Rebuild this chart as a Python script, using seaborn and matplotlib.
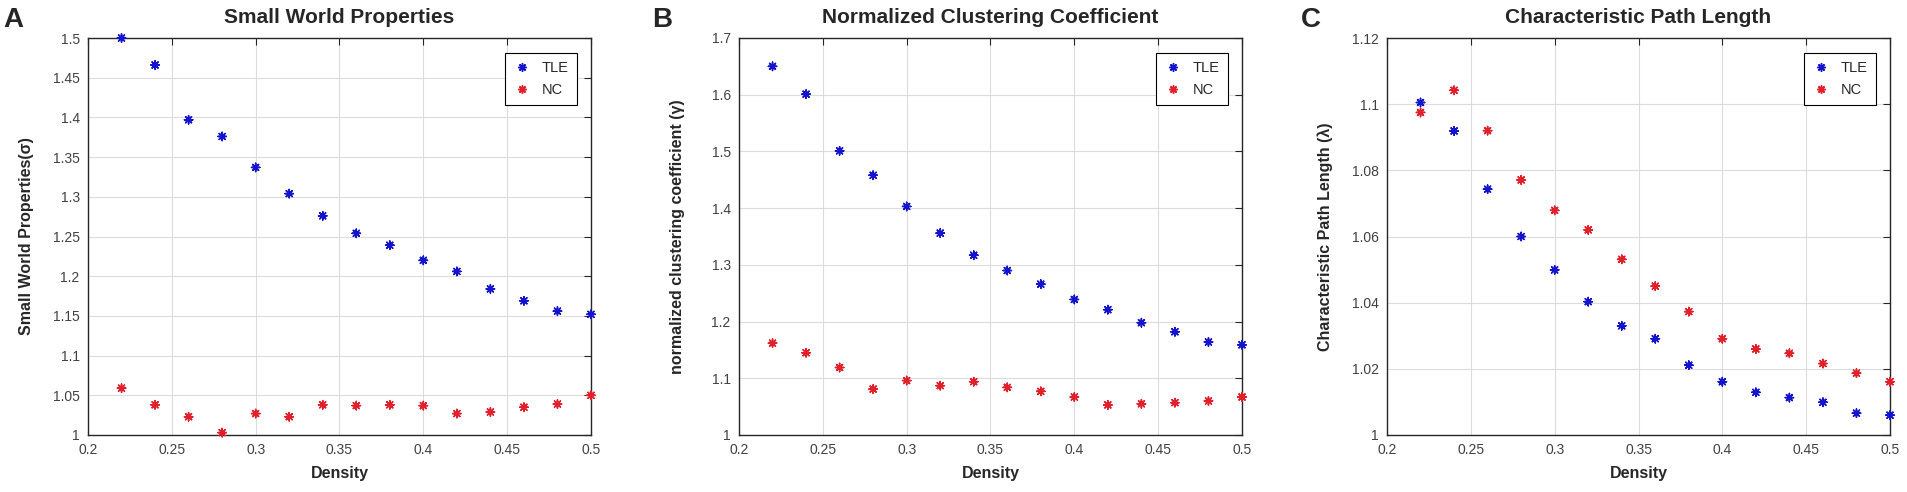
import numpy as np
import pandas as pd
import matplotlib
matplotlib.use("Agg")
import matplotlib.pyplot as plt
import seaborn as sns
from matplotlib.ticker import FuncFormatter, MultipleLocator

density = [0.22, 0.24, 0.26, 0.28, 0.30, 0.32, 0.34, 0.36, 0.38, 0.40, 0.42, 0.44, 0.46, 0.48, 0.50]

sigma_tle = [1.500, 1.466, 1.397, 1.376, 1.337, 1.304, 1.276, 1.254, 1.239, 1.220, 1.206, 1.184, 1.169, 1.156, 1.152]
sigma_nc = [1.059, 1.038, 1.023, 1.003, 1.027, 1.023, 1.038, 1.037, 1.038, 1.037, 1.027, 1.029, 1.035, 1.039, 1.050]

gamma_tle = [1.650, 1.601, 1.501, 1.458, 1.403, 1.356, 1.317, 1.290, 1.266, 1.239, 1.221, 1.198, 1.182, 1.164, 1.159]
gamma_nc = [1.162, 1.145, 1.119, 1.081, 1.096, 1.087, 1.094, 1.084, 1.077, 1.067, 1.053, 1.055, 1.057, 1.060, 1.067]

lambda_tle = [1.1005, 1.0919, 1.0743, 1.0600, 1.0499, 1.0403, 1.0330, 1.0291, 1.0211, 1.0161, 1.0129, 1.0113, 1.0099, 1.0066, 1.0060]
lambda_nc = [1.0975, 1.1042, 1.0920, 1.0771, 1.0679, 1.0620, 1.0531, 1.0450, 1.0373, 1.0291, 1.0260, 1.0247, 1.0216, 1.0187, 1.0161]

groups = ["TLE", "NC"]
titles = ["Small World Properties", "Normalized Clustering Coefficient", "Characteristic Path Length"]
ylabels = ["Small World Properties(σ)", "normalized clustering coefficient (γ)", "Characteristic Path Length (λ)"]
letters = ["A", "B", "C"]
ylims = [(1, 1.5), (1, 1.7), (1, 1.12)]
ysteps = [0.05, 0.1, 0.02]

sns.set_style("white")
plt.rcParams["font.family"] = ["Liberation Sans", "DejaVu Sans"]

colors = {"TLE": "#1414cc", "NC": "#e0202a"}
fmt = FuncFormatter(lambda v, p: f"{round(v, 4):g}")

fig = plt.figure(figsize=(19.08, 4.92), dpi=100)
lefts = [88, 739, 1387]
series = [(sigma_tle, sigma_nc), (gamma_tle, gamma_nc), (lambda_tle, lambda_nc)]

for i in range(3):
    ax = fig.add_axes([lefts[i] / 1908, 57 / 492, 503 / 1908, 397 / 492])
    tle, nc = series[i]
    df = pd.DataFrame({
        "Density": density * 2,
        "value": tle + nc,
        "group": ["TLE"] * len(tle) + ["NC"] * len(nc),
    })
    sns.scatterplot(data=df, x="Density", y="value", hue="group", hue_order=groups,
                    palette=colors, marker=(8, 2, 0), s=36, linewidth=1.1,
                    ax=ax, clip_on=False, zorder=3)
    ax.set_xlim(0.2, 0.5)
    ax.set_ylim(*ylims[i])
    ax.xaxis.set_major_locator(MultipleLocator(0.05))
    ax.yaxis.set_major_locator(MultipleLocator(ysteps[i]))
    ax.xaxis.set_major_formatter(fmt)
    ax.yaxis.set_major_formatter(fmt)
    ax.grid(True, color="#dcdcdc", linewidth=0.8)
    ax.set_axisbelow(True)
    for s in ax.spines.values():
        s.set_visible(True)
        s.set_color("#262626")
        s.set_linewidth(1.0)
    ax.tick_params(direction="in", length=5, width=0.8, top=True, right=True,
                   labelsize=10, colors="#262626", labelcolor="#404040", pad=6)
    ax.set_title(titles[i], fontsize=15, fontweight="bold", pad=11)
    ax.set_xlabel("Density", fontsize=11.5, fontweight="bold", labelpad=6)
    ax.set_ylabel(ylabels[i], fontsize=11.5, fontweight="bold")
    ax.yaxis.set_label_coords(-54 / 503, 0.5)
    ax.legend(loc="upper right", bbox_to_anchor=(1 - 14 / 503, 1 - 15 / 397),
              fontsize=10.5, frameon=True, fancybox=False, edgecolor="black",
              framealpha=1, borderpad=0.55, handletextpad=0.7, labelspacing=0.55,
              handlelength=1.3, borderaxespad=0)
    ax.get_legend().get_frame().set_linewidth(0.8)
    fig.text([3, 652, 1301][i] / 1908, 1 - 27 / 492, letters[i],
             fontsize=20, fontweight="bold", va="baseline", ha="left")

fig.savefig("out.png", dpi=100)
